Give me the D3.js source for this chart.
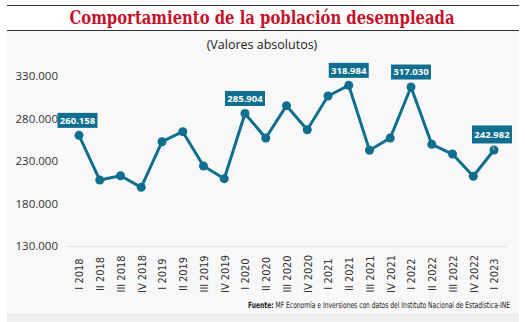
<!DOCTYPE html>
<html>
<head>
<meta charset="utf-8">
<script src="https://cdn.jsdelivr.net/npm/d3@7"></script>
<style>
  html, body { margin: 0; padding: 0; background: #fff; }
  svg { display: block; }
</style>
</head>
<body>
<div id="chart"></div>
<script>
// quarterly unemployed population
const categories = [
  "I 2018", "II 2018", "III 2018", "IV 2018",
  "I 2019", "II 2019", "III 2019", "IV 2019",
  "I 2020", "II 2020", "III 2020", "IV 2020",
  "I 2021", "II 2021", "III 2021", "IV 2021",
  "I 2022", "II 2022", "III 2022", "IV 2022",
  "I 2023"
];
const values = [
  260158, 207600, 212700, 199000,
  252700, 264500, 224100, 209200,
  285904, 257100, 295100, 266800,
  306500, 318984, 242600, 257100,
  317030, 249600, 238200, 212000,
  242982
];
const labelled = ["I 2018", "I 2020", "II 2021", "I 2022", "I 2023"];
const yTicks = [130000, 180000, 230000, 280000, 330000];

const width = 525, height = 322;
const teal = "#106f8e";

const fmt = d3.formatLocale({ decimal: ",", thousands: ".", grouping: [3], currency: ["", ""] }).format(",");

const svg = d3.select("#chart").append("svg")
  .attr("width", width)
  .attr("height", height);

// panel backgrounds
svg.append("rect").attr("x", 7).attr("y", 31).attr("width", 512).attr("height", 282).attr("fill", "#f8f8f8");
svg.append("rect").attr("x", 7).attr("y", 313).attr("width", 512).attr("height", 9).attr("fill", "#efefef");

// title with rules
svg.append("line").attr("x1", 7).attr("x2", 519).attr("y1", 5.5).attr("y2", 5.5)
  .attr("stroke", "#333").attr("stroke-width", 1.2);
svg.append("line").attr("x1", 7).attr("x2", 519).attr("y1", 30.5).attr("y2", 30.5)
  .attr("stroke", "#333").attr("stroke-width", 1.2);
svg.append("text")
  .attr("x", 262).attr("y", 24)
  .attr("text-anchor", "middle")
  .attr("font-family", "'DejaVu Serif Condensed', 'DejaVu Serif', serif")
  .attr("font-weight", "bold")
  .attr("font-size", 18)
  .attr("textLength", 385)
  .attr("lengthAdjust", "spacingAndGlyphs")
  .attr("fill", "#c3132b")
  .text("Comportamiento de la población desempleada");

svg.append("text")
  .attr("x", 262).attr("y", 49)
  .attr("text-anchor", "middle")
  .attr("font-family", "'Open Sans', 'Noto Sans', sans-serif")
  .attr("font-size", 12.5)
  .attr("fill", "#222")
  .text("(Valores absolutos)");

const x = d3.scalePoint().domain(categories).range([79, 494]);
const y = d3.scaleLinear().domain([130000, 330000]).range([246, 76]);

// y axis labels only
const yAxis = svg.append("g")
  .attr("transform", "translate(58,0)")
  .call(d3.axisLeft(y).tickValues(yTicks).tickFormat(fmt).tickSize(0).tickPadding(0));
yAxis.select(".domain").remove();
yAxis.selectAll("text")
  .attr("font-family", "'Open Sans', 'Noto Sans', sans-serif")
  .attr("font-size", 11.5)
  .attr("fill", "#333");

// baseline
svg.append("line")
  .attr("x1", 67).attr("x2", 506)
  .attr("y1", y(130000) + 0.5).attr("y2", y(130000) + 0.5)
  .attr("stroke", "#e2e2e2").attr("stroke-width", 1);

// x axis labels, rotated
const xAxis = svg.append("g")
  .attr("transform", "translate(0," + 274 + ")")
  .call(d3.axisBottom(x).tickSize(0).tickPadding(0));
xAxis.select(".domain").remove();
xAxis.selectAll("text")
  .attr("transform", "rotate(-90)")
  .attr("x", 0).attr("y", 0)
  .attr("dy", "0.35em")
  .attr("text-anchor", "middle")
  .attr("font-family", "'Liberation Sans Narrow', 'DejaVu Sans Condensed', sans-serif")
  .attr("font-size", 11)
  .attr("fill", "#333");

const data = categories.map((c, i) => ({ cat: c, value: values[i] }));

svg.append("path")
  .datum(data)
  .attr("fill", "none")
  .attr("stroke", teal)
  .attr("stroke-width", 3)
  .attr("stroke-linejoin", "round")
  .attr("d", d3.line().x(d => x(d.cat)).y(d => y(d.value)));

svg.selectAll("circle.pt")
  .data(data)
  .enter().append("circle")
  .attr("class", "pt")
  .attr("cx", d => x(d.cat))
  .attr("cy", d => y(d.value))
  .attr("r", 4.5)
  .attr("fill", teal);

// value callouts
const callouts = data.filter(d => labelled.includes(d.cat));
const g = svg.selectAll("g.callout")
  .data(callouts)
  .enter().append("g")
  .attr("class", "callout");

g.each(function (d) {
  const last = d.cat === categories[categories.length - 1];
  const cx = x(d.cat) + (last ? -2 : (d.cat === categories[0] ? -1.5 : 0));
  const h = last ? 18 : 15;
  const gap = last ? 6.5 : 7.5;
  const bottom = y(d.value) - gap;
  const sel = d3.select(this);
  if (last) {
    sel.append("line")
      .attr("x1", cx).attr("x2", x(d.cat))
      .attr("y1", bottom).attr("y2", y(d.value))
      .attr("stroke", "#bbb").attr("stroke-width", 0.8);
  }
  sel.append("rect")
    .attr("x", cx - 20).attr("y", bottom - h)
    .attr("width", 40).attr("height", h)
    .attr("fill", teal);
  sel.append("text")
    .attr("x", cx).attr("y", bottom - h / 2)
    .attr("dy", "0.35em")
    .attr("text-anchor", "middle")
    .attr("font-family", "'Open Sans', 'Noto Sans', sans-serif")
    .attr("font-weight", "bold")
    .attr("font-size", 9.5)
    .attr("fill", "#fff")
    .text(fmt(d.value));
});

// source note, squeezed horizontally into the right corner
const src = svg.append("g")
  .attr("transform", "translate(510,308) scale(0.785,1)")
  .append("text")
  .attr("text-anchor", "end")
  .attr("font-family", "'Liberation Sans Narrow', 'DejaVu Sans Condensed', sans-serif")
  .attr("font-size", 8.5)
  .attr("fill", "#222");
src.append("tspan").attr("font-weight", "bold").text("Fuente:");
src.append("tspan").text(" MF Economía e Inversiones con datos del Instituto Nacional de Estadística-INE");
</script>
</body>
</html>
